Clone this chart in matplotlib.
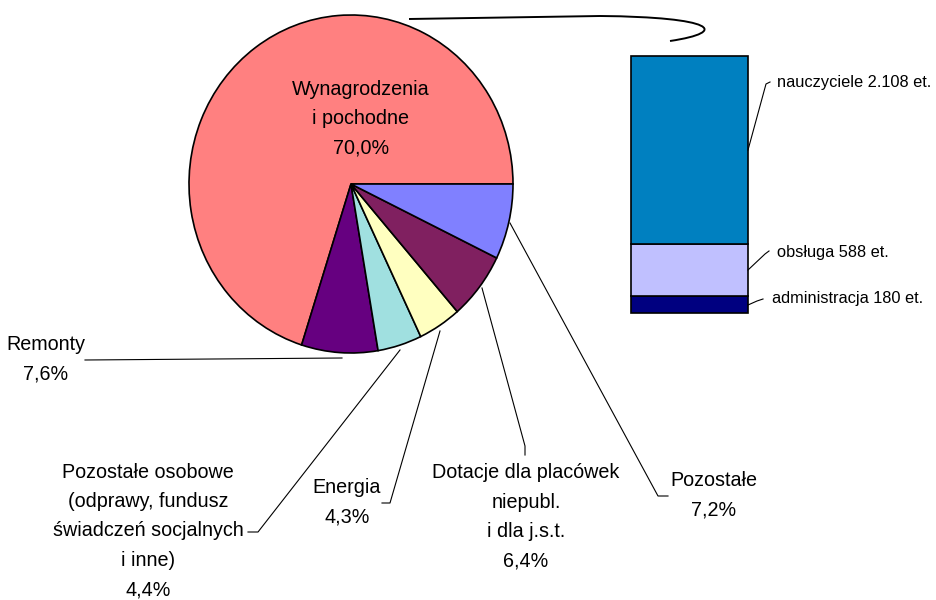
import matplotlib
matplotlib.use('Agg')
import matplotlib.pyplot as plt
from matplotlib.path import Path
from matplotlib.patches import PathPatch

plt.rcParams['font.family'] = ['Liberation Sans', 'DejaVu Sans']

# ---- data ----
pie_labels = ['Wynagrodzenia\ni pochodne', 'Remonty',
              'Pozostałe osobowe\n(odprawy, fundusz\nświadczeń socjalnych\ni inne)',
              'Energia', 'Dotacje dla placówek\nniepubl.\ni dla j.s.t.', 'Pozostałe']
pie_values = [70.0, 7.6, 4.4, 4.3, 6.4, 7.2]
pie_colors = ['#FF8080', '#660080', '#A0E0E0', '#FFFFC0', '#802060', '#8080FF']

bar_labels = ['nauczyciele', 'obsługa', 'administracja']
bar_values = [2108, 588, 180]
bar_colors = ['#0080C0', '#C0C0FF', '#000080']

W, H = 936, 600
fig = plt.figure(figsize=(9.36, 6), dpi=100)

# ---- pie (slightly elliptical, as in reference) ----
cx, cy, rx, ry = 351, 184, 162, 169
m = 1.05
axp = fig.add_axes([(cx - rx * m) / W, (H - cy - ry * m) / H, 2 * rx * m / W, 2 * ry * m / H])
axp.pie(pie_values, colors=pie_colors, startangle=0, counterclock=True, radius=1,
        wedgeprops=dict(edgecolor='black', linewidth=1.2))
axp.set_xlim(-m, m)
axp.set_ylim(-m, m)
axp.set_aspect('auto')
axp.axis('off')

# ---- overlay in pixel coordinates ----
ax = fig.add_axes([0, 0, 1, 1])
ax.set_xlim(0, W)
ax.set_ylim(0, H)
ax.axis('off')

def Y(y):
    return H - y

def pct(v):
    return f"{v:.1f}".replace('.', ',') + '%'

fs = 14.2
text_pos = [(361, 119), (46, 359), (148, 531), (347, 502), (526, 517), (714, 495)]
for lab, v, (tx, ty) in zip(pie_labels, pie_values, text_pos):
    ax.text(tx, Y(ty), f"{lab}\n{pct(v)}", ha='center', va='center', fontsize=fs,
            linespacing=1.7, color='black')

leaders = [None,
           [(85, 360), (342, 358)],
           [(248, 532), (258, 532), (400, 350)],
           [(382, 503), (390, 503), (440, 331)],
           [(525, 455), (525, 446), (482, 288)],
           [(668, 496), (658, 496), (510, 223)]]
for pts in leaders:
    if pts:
        ax.plot([p[0] for p in pts], [Y(p[1]) for p in pts], color='black', lw=0.8)

# ---- stacked bar ----
bx, bw = 689, 117
scale = 256.5 / sum(bar_values)
bottom = Y(312.5)
stack = list(zip(bar_labels, bar_values, bar_colors))[::-1]
for lab, v, c in stack:
    ax.bar(bx, v * scale, bottom=bottom, width=bw, color=c, edgecolor='black', linewidth=1.2)
    bottom += v * scale

bar_text = {'nauczyciele': (777, 82), 'obsługa': (777, 252), 'administracja': (772, 299)}
bar_leaders = {'nauczyciele': [(770, 82), (766, 84), (748, 150)],
               'obsługa': [(769, 251), (765, 254), (748, 270)],
               'administracja': [(763, 299), (757, 301), (748, 305)]}
for lab, v in zip(bar_labels, bar_values):
    tx, ty = bar_text[lab]
    ax.text(tx, Y(ty), f"{lab} {v:,}".replace(',', '.') + " et.", ha='left', va='center',
            fontsize=11.8, color='black')
    pts = bar_leaders[lab]
    ax.plot([p[0] for p in pts], [Y(p[1]) for p in pts], color='black', lw=0.8)

# ---- connector curve from pie to bar ----
verts = [(409, 19), (600, 16), (715, 17), (730, 32), (670, 41)]
verts = [(x, Y(y)) for x, y in verts]
codes = [Path.MOVETO, Path.LINETO, Path.CURVE4, Path.CURVE4, Path.CURVE4]
ax.add_patch(PathPatch(Path(verts, codes), facecolor='none', edgecolor='black', lw=1.4))

fig.savefig('out.png', dpi=100, facecolor='white')
